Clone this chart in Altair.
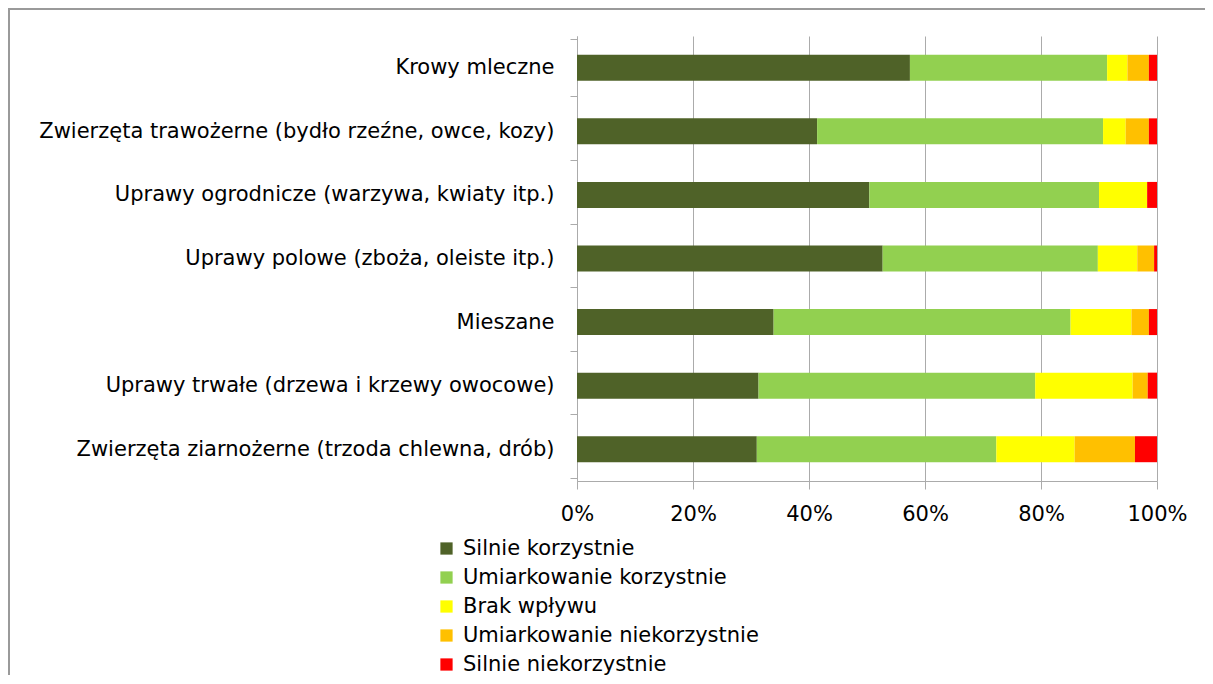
import altair as alt
import pandas as pd

categories = [
    "Krowy mleczne",
    "Zwierzęta trawożerne (bydło rzeźne, owce, kozy)",
    "Uprawy ogrodnicze (warzywa, kwiaty itp.)",
    "Uprawy polowe (zboża, oleiste itp.)",
    "Mieszane",
    "Uprawy trwałe (drzewa i krzewy owocowe)",
    "Zwierzęta ziarnożerne (trzoda chlewna, drób)",
]
series = [
    "Silnie korzystnie",
    "Umiarkowanie korzystnie",
    "Brak wpływu",
    "Umiarkowanie niekorzystnie",
    "Silnie niekorzystnie",
]
silnie_korzystnie = [57.4, 41.4, 50.4, 52.7, 33.9, 31.3, 31.0]
umiarkowanie_korzystnie = [34.0, 49.3, 39.6, 37.1, 51.2, 47.7, 41.3]
brak_wplywu = [3.5, 3.9, 8.3, 6.8, 10.5, 16.8, 13.5]
umiarkowanie_niekorzystnie = [3.7, 4.0, 0.0, 2.9, 3.0, 2.6, 10.4]
silnie_niekorzystnie = [1.4, 1.4, 1.7, 0.5, 1.4, 1.6, 3.8]
colors = ["#4F6228", "#92D050", "#FFFF00", "#FFC000", "#FF0000"]

values = [silnie_korzystnie, umiarkowanie_korzystnie, brak_wplywu,
          umiarkowanie_niekorzystnie, silnie_niekorzystnie]
rows = []
for si, (s, vals) in enumerate(zip(series, values)):
    for c, v in zip(categories, vals):
        rows.append({"cat": c, "series": s, "value": v, "order": si})
df = pd.DataFrame(rows)

FONT = "DejaVu Sans"
FS = 21
GRID = "#ababab"

bars = alt.Chart(df).mark_bar(size=26).encode(
    y=alt.Y("cat:N", sort=categories, title=None,
            axis=alt.Axis(tickBand="extent", tickSize=7, tickColor=GRID,
                          domainColor=GRID, labelFontSize=FS, labelFont=FONT,
                          labelColor="#000000", labelPadding=16, labelLimit=700,
                          grid=False)),
    x=alt.X("value:Q", stack="normalize", title=None,
            scale=alt.Scale(domain=[0, 1], nice=False),
            axis=alt.Axis(format="%", values=[0, 0.2, 0.4, 0.6, 0.8, 1.0],
                          grid=True, gridColor=GRID, domainColor=GRID,
                          tickColor=GRID, tickSize=8, labelFontSize=FS,
                          labelFont=FONT, labelColor="#000000", labelPadding=14,
                          labelFlush=False, labelOverlap=False)),
    color=alt.Color("series:N", sort=series,
                    scale=alt.Scale(domain=series, range=colors),
                    legend=alt.Legend(title=None, orient="none", legendX=-141,
                                      legendY=502, symbolType="square",
                                      symbolSize=150, symbolStrokeWidth=0,
                                      labelFontSize=FS, labelFont=FONT,
                                      labelColor="#000000", rowPadding=7,
                                      labelLimit=600,
                                      symbolOffset=0, labelOffset=6)),
    order=alt.Order("order:Q"),
)

border = alt.Chart(alt.Data(values=[{}])).mark_rect(
    filled=False, stroke="#9a9a9a", strokeWidth=2
).encode(
    x=alt.value(-568), x2=alt.value(1000),
    y=alt.value(-27), y2=alt.value(800),
)

chart = alt.layer(border, bars).properties(
    width=580, height=445,
    autosize=alt.AutoSizeParams(type="none"),
    padding={"left": 569, "top": 28, "right": 48, "bottom": 194},
).configure_view(stroke=None)

chart.save("out.html", embed_options={"renderer": "svg", "actions": False})
